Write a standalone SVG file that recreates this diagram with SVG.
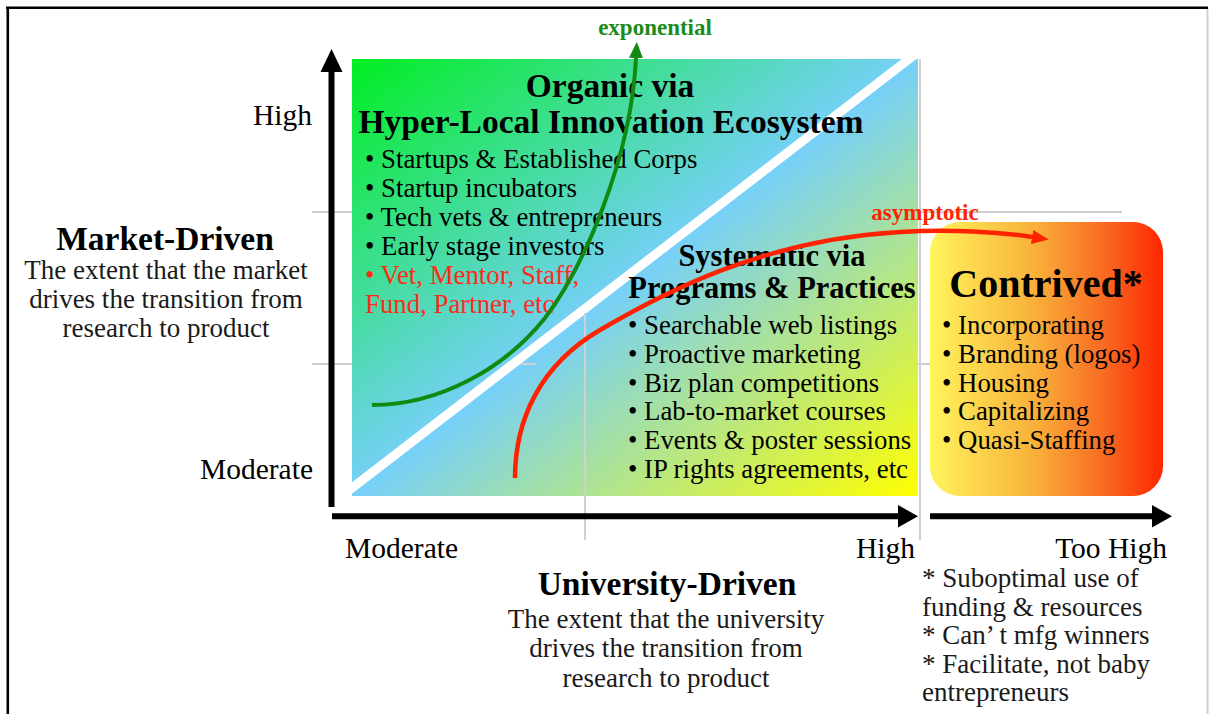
<svg xmlns="http://www.w3.org/2000/svg" width="1209" height="714" viewBox="0 0 1209 714">
<style>
text{font-family:"Liberation Serif","Times New Roman",serif;fill:#000}
.b{font-weight:bold}
.h1{font-size:33.5px;font-weight:bold}
.h2{font-size:30.5px;font-weight:bold}
.li{font-size:26.8px}
.ax{font-size:29.5px}
.ds{font-size:27px;fill:#1a1a1a}
.red{fill:#ff2a1a}
.grid{stroke:#d0d0d0;stroke-width:2;fill:none}
.axis{stroke:#000;stroke-width:6;fill:none}
</style>
<defs>
<linearGradient id="gMain" x1="0" y1="0" x2="1" y2="1">
<stop offset="0" stop-color="#00ee22"/>
<stop offset="0.5" stop-color="#76d0f8"/>
<stop offset="1" stop-color="#ffff00"/>
</linearGradient>
<linearGradient id="gCon" x1="0" y1="0" x2="1" y2="0">
<stop offset="0" stop-color="#fff45c"/>
<stop offset="0.45" stop-color="#f9b03a"/>
<stop offset="0.75" stop-color="#f86a22"/>
<stop offset="1" stop-color="#ff2500"/>
</linearGradient>
<clipPath id="cMain"><rect x="352" y="59" width="566" height="437"/></clipPath>
<marker id="arrG" markerUnits="userSpaceOnUse" markerWidth="16" markerHeight="14" refX="0" refY="7" orient="auto" viewBox="0 0 16 14"><path d="M0,0 L16,7 L0,14 z" fill="#118a11"/></marker>
<marker id="arrR" markerUnits="userSpaceOnUse" markerWidth="17" markerHeight="14" refX="0" refY="7" orient="auto" viewBox="0 0 17 14"><path d="M0,0 L17,7 L0,14 z" fill="#ff2200"/></marker>
</defs>
<rect width="1209" height="714" fill="#fff"/>
<g id="frame">
<line x1="6" y1="7.8" x2="1208" y2="7.8" stroke="#000" stroke-width="2.6"/>
<line x1="7.8" y1="7" x2="7.8" y2="714" stroke="#000" stroke-width="2.6"/>
<line x1="1207.5" y1="9" x2="1207.5" y2="714" stroke="#d0d0d0" stroke-width="2"/>
</g>
<g id="grid">
<line class="grid" x1="312" y1="212" x2="1122" y2="212"/>
<line class="grid" x1="312" y1="364" x2="930" y2="364"/>
</g>
<g id="organic">
<rect x="352" y="59" width="566" height="437" fill="url(#gMain)"/>
<line x1="340" y1="497.2" x2="930" y2="42.9" stroke="#fff" stroke-width="9" clip-path="url(#cMain)"/>
<line class="grid" x1="585" y1="313" x2="585" y2="540"/>
<line class="grid" x1="521" y1="364" x2="536" y2="364"/>
<line class="grid" x1="920" y1="59" x2="920" y2="540"/>
<text class="h1" x="610" y="97" text-anchor="middle">Organic via</text>
<text class="h1" x="611" y="133" text-anchor="middle">Hyper-Local Innovation Ecosystem</text>
<text class="li" x="365" y="168">• Startups &amp; Established Corps</text>
<text class="li" x="365" y="197">• Startup incubators</text>
<text class="li" x="365" y="226">• Tech vets &amp; entrepreneurs</text>
<text class="li" x="365" y="255">• Early stage investors</text>
<text class="li red" x="365" y="284">• Vet, Mentor, Staff,</text>
<text class="li red" x="365" y="313">Fund, Partner, etc</text>
</g>
<g id="systematic">
<text class="h2" x="772" y="266" text-anchor="middle">Systematic via</text>
<text class="h2" x="772" y="298" text-anchor="middle">Programs &amp; Practices</text>
<text class="li" x="628" y="334">• Searchable web listings</text>
<text class="li" x="628" y="363">• Proactive marketing</text>
<text class="li" x="628" y="391.5">• Biz plan competitions</text>
<text class="li" x="628" y="420">• Lab-to-market courses</text>
<text class="li" x="628" y="449">• Events &amp; poster sessions</text>
<text class="li" x="628" y="478">• IP rights agreements, etc</text>
</g>
<g id="contrived">
<rect x="930" y="222" width="233" height="274" rx="30" ry="30" fill="url(#gCon)"/>
<text x="1046" y="297" text-anchor="middle" class="b" style="font-size:40px">Contrived*</text>
<text class="li" x="942" y="334">• Incorporating</text>
<text class="li" x="942" y="363">• Branding (logos)</text>
<text class="li" x="942" y="391.5">• Housing</text>
<text class="li" x="942" y="420">• Capitalizing</text>
<text class="li" x="942" y="449">• Quasi-Staffing</text>
</g>
<g id="axes">
<line class="axis" x1="331.5" y1="507" x2="331.5" y2="70"/>
<path d="M320.5,72 L331.5,49 L342.5,72 z" fill="#000"/>
<line class="axis" x1="332" y1="516.3" x2="900" y2="516.3"/>
<path d="M898,505 L918,516.3 L898,527.6 z" fill="#000"/>
<line class="axis" x1="930" y1="516.3" x2="1154" y2="516.3"/>
<path d="M1152,505 L1172,516.3 L1152,527.6 z" fill="#000"/>
</g>
<g id="market-axis-labels">
<text class="ax" x="312" y="125" text-anchor="end">High</text>
<text class="ax" x="313" y="479" text-anchor="end">Moderate</text>
<text class="h1" x="165" y="250" text-anchor="middle">Market-Driven</text>
<text class="ds" x="166" y="279" text-anchor="middle">The extent that the market</text>
<text class="ds" x="166" y="308" text-anchor="middle">drives the transition from</text>
<text class="ds" x="166" y="337" text-anchor="middle">research to product</text>
</g>
<g id="university-axis-labels">
<text class="ax" x="345" y="558">Moderate</text>
<text class="ax" x="915" y="558" text-anchor="end">High</text>
<text class="ax" x="1167" y="558" text-anchor="end">Too High</text>
<text class="h1" x="667" y="595" text-anchor="middle">University-Driven</text>
<text class="ds" x="666" y="628" text-anchor="middle">The extent that the university</text>
<text class="ds" x="666" y="657" text-anchor="middle">drives the transition from</text>
<text class="ds" x="666" y="687" text-anchor="middle">research to product</text>
</g>
<g id="notes">
<text class="ds" x="922" y="587">* Suboptimal use of</text>
<text class="ds" x="922" y="615.5">funding &amp; resources</text>
<text class="ds" x="922" y="644">* Can’ t mfg winners</text>
<text class="ds" x="922" y="672.5">* Facilitate, not baby</text>
<text class="ds" x="922" y="701">entrepreneurs</text>
</g>
<g id="connectors">
<path d="M372,405 C440,405 505,368 545,318 C583,268 631,160 636,58" fill="none" stroke="#118a11" stroke-width="4" marker-end="url(#arrG)"/>
<text class="b" x="655" y="35" text-anchor="middle" style="font-size:23px;fill:#1a8c1a">exponential</text>
<path d="M515,478 C515,420 540,365 600,330 C660,295 760,240 900,232 C950,229 1000,232 1032,237" fill="none" stroke="#ff2200" stroke-width="4.5" marker-end="url(#arrR)"/>
<text class="b" x="925" y="220" text-anchor="middle" style="font-size:23px;fill:#ff2200">asymptotic</text>
</g>
</svg>
